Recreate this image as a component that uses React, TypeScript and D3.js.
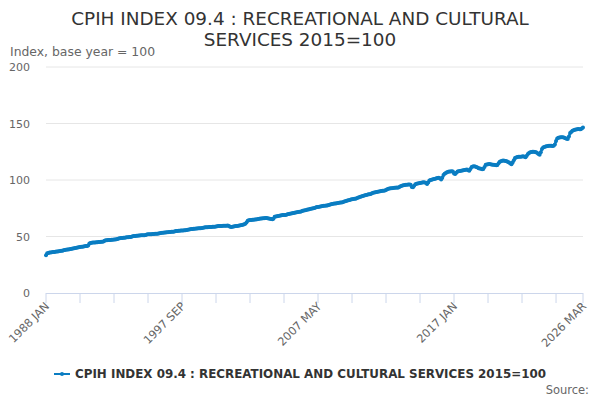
import { useMemo } from 'react'
import * as d3 from 'd3'

const W = 600
const H = 400
const M = { t: 67, r: 17, b: 107, l: 46 }

const TITLE_LINES = ['CPIH INDEX 09.4 : RECREATIONAL AND CULTURAL', 'SERVICES 2015=100']
const SERIES_NAME = 'CPIH INDEX 09.4 : RECREATIONAL AND CULTURAL SERVICES 2015=100'
const Y_TITLE = 'Index, base year = 100'
const MONTHS = ['JAN', 'FEB', 'MAR', 'APR', 'MAY', 'JUN', 'JUL', 'AUG', 'SEP', 'OCT', 'NOV', 'DEC']
const START_YEAR = 1988
const Y_TICKS = [0, 50, 100, 150, 200]
// month offsets from 1988 JAN that get a tick, and those that get a label
const X_TICKS = [0, 29, 58, 87, 116, 145, 174, 203, 232, 261, 290, 319, 348, 377, 406, 435, 458]
const X_LABELS = [0, 116, 232, 348, 458]

// monthly index values
const v1988to1995 = [
  33.5, 35.2, 35.5, 35.8, 35.9, 36.0, 36.2, 36.3, 36.5, 36.7, 36.8, 37.0,
  37.1, 37.3, 37.5, 37.8, 38.0, 38.2, 38.4, 38.6, 38.8, 39.0, 39.2, 39.4,
  39.6, 39.8, 40.0, 40.3, 40.5, 40.7, 40.9, 41.0, 41.2, 41.3, 41.5, 41.6,
  42.0, 43.8, 44.2, 44.5, 44.6, 44.7, 44.8, 44.9, 45.0, 45.1, 45.2, 45.3,
  45.4, 45.6, 46.3, 46.6, 46.7, 46.8, 46.9, 47.0, 47.1, 47.2, 47.3, 47.4,
  47.6, 47.8, 48.2, 48.5, 48.6, 48.7, 48.8, 49.0, 49.2, 49.3, 49.4, 49.5,
  49.6, 49.8, 50.2, 50.4, 50.5, 50.6, 50.7, 50.8, 50.9, 51.0, 51.1, 51.2,
  51.2, 51.4, 51.7, 51.9, 52.0, 52.0, 52.1, 52.2, 52.3, 52.4, 52.5, 52.5,
]
const v1996to2003 = [
  52.6, 52.8, 53.1, 53.3, 53.4, 53.5, 53.6, 53.7, 53.8, 53.9, 54.0, 54.1,
  54.1, 54.3, 54.6, 54.8, 54.9, 55.0, 55.1, 55.2, 55.3, 55.4, 55.5, 55.6,
  55.7, 55.9, 56.2, 56.5, 56.6, 56.7, 56.8, 56.9, 57.0, 57.1, 57.2, 57.3,
  57.3, 57.5, 57.8, 58.0, 58.1, 58.1, 58.2, 58.3, 58.4, 58.5, 58.6, 58.7,
  58.7, 58.8, 59.1, 59.3, 59.3, 59.4, 59.4, 59.5, 59.5, 59.6, 59.6, 59.7,
  59.2, 58.6, 58.4, 58.6, 58.8, 59.0, 59.2, 59.4, 59.6, 59.8, 60.0, 60.2,
  60.5, 60.8, 61.2, 62.5, 64.0, 64.3, 64.5, 64.7, 64.8, 64.9, 65.0, 65.1,
  65.2, 65.4, 65.7, 65.9, 66.0, 66.1, 66.2, 66.3, 66.4, 66.2, 66.0, 65.8,
]
const v2004to2011 = [
  65.5, 65.2, 65.8, 67.5, 67.8, 68.0, 68.2, 68.4, 68.6, 68.8, 69.0, 69.1,
  69.0, 69.2, 69.6, 70.0, 70.2, 70.4, 70.6, 70.8, 71.0, 71.2, 71.5, 71.7,
  71.8, 72.0, 72.4, 72.8, 73.0, 73.3, 73.5, 73.8, 74.0, 74.3, 74.5, 74.8,
  75.0, 75.3, 75.7, 76.0, 76.2, 76.4, 76.6, 76.8, 77.0, 77.2, 77.3, 77.5,
  77.5, 77.8, 78.2, 78.5, 78.7, 78.9, 79.1, 79.3, 79.5, 79.7, 79.8, 80.0,
  80.0, 80.3, 80.7, 81.2, 81.5, 81.8, 82.1, 82.4, 82.7, 83.0, 83.2, 83.5,
  83.5, 83.8, 84.3, 84.8, 85.2, 85.5, 85.8, 86.1, 86.4, 86.7, 87.0, 87.3,
  87.4, 87.7, 88.2, 88.7, 89.0, 89.2, 89.4, 89.6, 89.8, 90.0, 90.2, 90.4,
]
const v2012to2019 = [
  90.4, 90.6, 91.2, 91.8, 92.2, 92.5, 92.6, 92.8, 93.0, 93.1, 93.2, 93.4,
  93.2, 93.5, 94.2, 94.8, 95.1, 95.4, 95.6, 95.8, 95.9, 96.0, 96.1, 95.9,
  93.8, 93.6, 95.0, 96.2, 96.6, 96.9, 97.2, 97.4, 97.6, 97.8, 97.9, 97.7,
  97.5, 96.4, 97.8, 99.6, 100.0, 100.3, 100.6, 100.9, 101.2, 101.5, 101.7, 101.9,
  101.5, 100.4, 102.0, 104.5, 105.5, 106.2, 106.8, 107.2, 107.5, 107.6, 107.8, 107.5,
  105.8, 105.2, 106.5, 107.5, 107.8, 108.0, 108.2, 108.4, 108.6, 108.8, 109.0, 109.2,
  108.6, 108.2, 109.8, 111.5, 112.0, 112.2, 112.0, 111.5, 111.0, 110.5, 110.2, 110.0,
  109.6, 109.8, 111.5, 113.5, 113.8, 114.0, 114.1, 114.0, 113.8, 113.6, 113.5, 113.3,
]
const v2020to2026 = [
  113.0, 113.3, 114.8, 116.2, 116.6, 117.0, 117.2, 117.0, 116.8, 116.5, 116.0, 115.5,
  114.5, 114.0, 115.5, 117.5, 119.5, 120.0, 120.3, 120.5, 120.5, 120.6, 120.8, 121.0,
  120.5, 120.2, 121.5, 123.0, 124.0, 124.5, 124.8, 125.0, 125.0, 124.8, 124.5, 124.0,
  123.0, 122.3, 124.5, 127.5, 128.8, 129.3, 129.6, 129.8, 130.0, 130.2, 130.3, 130.2,
  130.0, 130.2, 131.5, 134.5, 136.8, 137.3, 137.6, 137.8, 137.9, 137.8, 137.4, 137.0,
  136.5, 136.2, 138.5, 141.5, 142.5, 143.5, 144.0, 144.5, 144.8, 145.0, 145.2, 145.0,
  145.0, 145.5, 146.5,
]

const values = [...v1988to1995, ...v1996to2003, ...v2004to2011, ...v2012to2019, ...v2020to2026]

const BLUE = '#0a7dc2'
const FONT = '"DejaVu Sans", Verdana, sans-serif'

function monthLabel(i: number) {
  return `${START_YEAR + Math.floor(i / 12)} ${MONTHS[i % 12]}`
}

export default function App() {
  const x = useMemo(() => d3.scaleLinear().domain([0, values.length - 1]).range([M.l, W - M.r]), [])
  const y = useMemo(() => d3.scaleLinear().domain([0, 200]).range([H - M.b, M.t]), [])
  const path = d3.line<number>().x((_, i) => x(i)).y(d => y(d))(values) ?? ''
  const baseY = y(0)

  return (
    <svg width={W} height={H} style={{ position: 'absolute', left: 0, top: 0, background: '#fff' }}
      fontFamily={FONT}>
      {TITLE_LINES.map((t, i) => (
        <text key={t} x={W / 2} y={25 + i * 21} textAnchor="middle" fontSize={18.4} fill="#333">{t}</text>
      ))}
      <text x={10} y={56} fontSize={12.4} fill="#666">{Y_TITLE}</text>

      {Y_TICKS.map(t => (
        <g key={t}>
          {t > 0 && <line x1={M.l} x2={W - M.r} y1={y(t)} y2={y(t)} stroke="#e6e6e6" />}
          <text x={30} y={y(t) + 4} textAnchor="end" fontSize={11} fill="#666">{t}</text>
        </g>
      ))}

      <line x1={M.l} x2={W - M.r} y1={baseY + 0.5} y2={baseY + 0.5} stroke="#ccd6eb" />
      {X_TICKS.map(t => (
        <line key={t} x1={x(t)} x2={x(t)} y1={baseY} y2={baseY + 10} stroke="#ccd6eb" />
      ))}
      {X_LABELS.map(t => (
        <text key={t} transform={`translate(${x(t) + 4},${baseY + 14}) rotate(-45)`}
          textAnchor="end" fontSize={11.3} fill="#666">{monthLabel(t)}</text>
      ))}

      <path d={path} fill="none" stroke={BLUE} strokeWidth={2.5} strokeLinejoin="round" />
      {values.map((v, i) => (
        <circle key={i} cx={x(i)} cy={y(v)} r={2} fill={BLUE} />
      ))}

      <line x1={54} x2={70} y1={374} y2={374} stroke={BLUE} strokeWidth={2} />
      <circle cx={62} cy={374} r={2} fill={BLUE} />
      <text x={75} y={378} fontSize={11.9} fontWeight="bold" fill="#333">{SERIES_NAME}</text>
      <text x={589} y={394} textAnchor="end" fontSize={11.5} fill="#666">Source:</text>
    </svg>
  )
}
